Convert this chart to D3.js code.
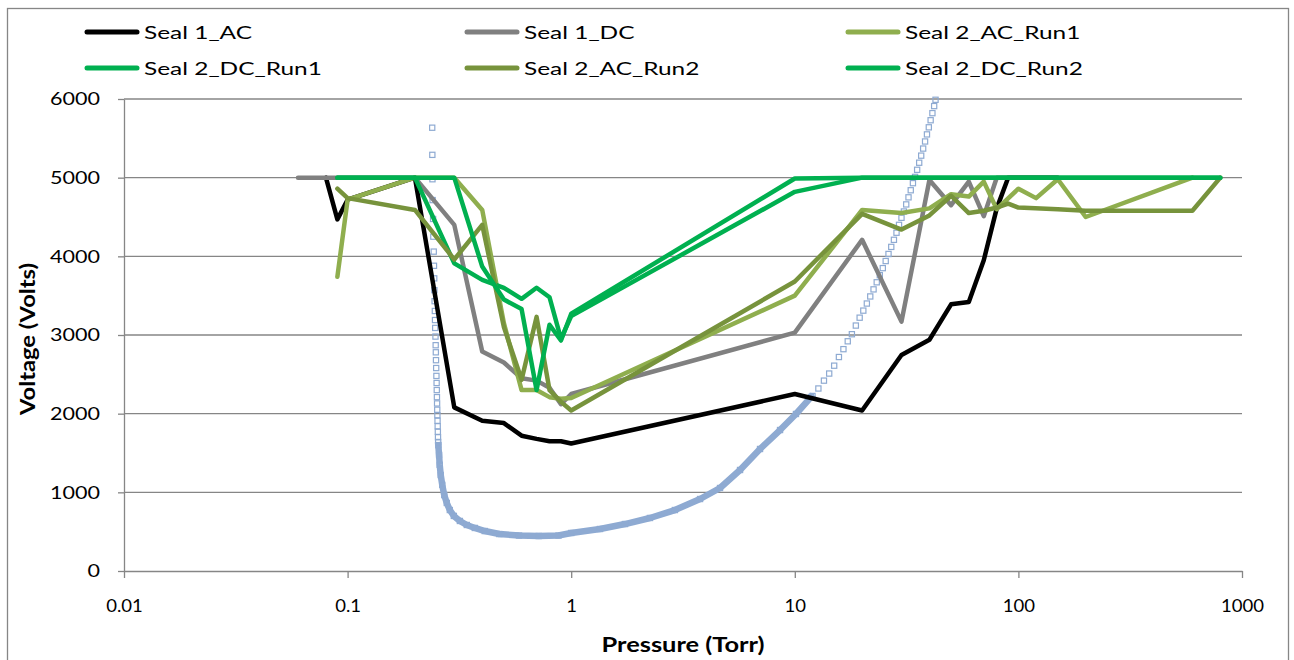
<!DOCTYPE html>
<html><head><meta charset="utf-8">
<script src="https://cdn.jsdelivr.net/npm/d3@7"></script>
<style>
body{margin:0;background:#fff}
svg{display:block}
text{font-family:Lato,"Open Sans",sans-serif;fill:#000}
</style>
</head><body>
<svg id="chart" width="1294" height="660"></svg>
<script>
// ---------------- DATA ----------------
const seriesNames = ["Seal 1_AC","Seal 1_DC","Seal 2_AC_Run1","Seal 2_DC_Run1","Seal 2_AC_Run2","Seal 2_DC_Run2"];
const seriesColors = ["#000000","#808080","#8fae4e","#00b050","#77933c","#00b050"];

const seal1AC_P = [0.08,0.09,0.1,0.2,0.3,0.4,0.5,0.6,0.7,0.8,0.9,1,10,20,30,40,50,60,70,80,90,100,150];
const seal1AC_V = [5000,4470,4720,5000,2080,1910,1880,1720,1680,1650,1650,1620,2250,2040,2745,2940,3390,3420,3950,4610,5000,5000,5000];

const seal1DC_P = [0.06,0.07,0.08,0.09,0.1,0.2,0.3,0.4,0.5,0.6,0.7,0.8,0.9,1,10,20,30,40,50,60,70,80,100,150];
const seal1DC_V = [5000,5000,5000,5000,5000,5000,4400,2790,2650,2450,2420,2330,2120,2250,3030,4210,3170,4970,4650,4950,4510,5000,5000,5000];

const seal2ACRun1_P = [0.09,0.1,0.2,0.3,0.4,0.5,0.6,0.7,0.8,0.9,1,10,20,30,40,50,60,70,80,100,120,150,200,600];
const seal2ACRun1_V = [3740,4720,5000,5000,4590,3150,2300,2300,2210,2190,2200,3500,4590,4550,4610,4790,4760,4950,4600,4860,4740,4980,4500,5000];

const seal2DCRun1_P = [0.09,0.1,0.2,0.3,0.4,0.5,0.6,0.7,0.8,0.9,1,10,20,800];
const seal2DCRun1_V = [5000,5000,5000,3910,3700,3600,3460,3600,3480,2950,3240,4820,5000,5000];

const seal2ACRun2_P = [0.09,0.1,0.2,0.3,0.4,0.5,0.6,0.7,0.8,0.9,1,10,20,30,40,50,60,70,80,90,100,150,200,600,800];
const seal2ACRun2_V = [4860,4740,4590,3960,4400,3100,2430,3230,2300,2150,2040,3680,4540,4340,4520,4770,4550,4580,4620,4670,4620,4600,4580,4580,5000];

const seal2DCRun2_P = [0.09,0.1,0.2,0.3,0.4,0.5,0.6,0.7,0.8,0.9,1,10,20,800];
const seal2DCRun2_V = [5000,5000,5000,5000,3870,3450,3330,2300,3130,2930,3270,4990,5000,5000];

// Paschen curve (hollow square markers, no legend entry)
const paschenSparseP = [0.2390,0.2393,0.2396,0.2400,0.2412,0.2418,0.2428,0.2434,0.2440,0.2444,0.2450,0.2456,0.2460,0.2465,0.2472,0.2477,0.2481,0.2485,0.2490,0.2496,0.2501,0.2505,0.2509,0.2513,0.2517,0.2521,0.2525,0.2529,0.2533,0.2537,0.2541,
  12.0,12.75,13.5,14.25,15,15.75,16.5,17.25,18,18.75,19.5,20.25,21,21.75,22.5,23.25,24,24.75,25.5,26.25,27,27.75,28.5,29.25,30,30.75,31.5,32.25,33,33.75,34.5,35.25,36,36.75,37.5,38.25,39,39.75,40.5,41.25,42,42.6];
const paschenSparseV = [5635,5290,4980,4715,4475,4250,4060,3880,3720,3570,3430,3305,3190,3090,2980,2870,2780,2680,2580,2480,2390,2300,2210,2130,2050,1980,1910,1840,1770,1700,1640,
  2225,2320,2420,2510,2610,2720,2820,2920,3010,3120,3220,3310,3400,3490,3580,3670,3760,3850,3940,4030,4120,4210,4300,4400,4490,4570,4660,4750,4840,4930,5010,5100,5190,5280,5370,5460,5550,5640,5730,5820,5910,5990];
const paschenDenseP = [0.2545,0.2565,0.2582,0.2609,0.265,0.2705,0.2777,0.2865,0.2986,0.3178,0.3413,0.3707,0.4106,0.477,0.5845,0.716,0.8774,1.0,1.345,1.74,2.25,2.91,3.77,4.63,5.69,6.99,8.59,10.12,11.82];
const paschenDenseV = [1600,1475,1350,1220,1095,965,865,775,700,636,585,547,508,470,451,445,451,483,534,597,674,775,915,1055,1284,1551,1792,1996,2212];

const xTickValues = [0.01,0.1,1,10,100,1000];
const xTickLabels = ["0.01","0.1","1","10","100","1000"];
const yTickValues = [0,1000,2000,3000,4000,5000,6000];
const xTitle = "Pressure (Torr)";
const yTitle = "Voltage (Volts)";

// ---------------- CHART ----------------
const svg = d3.select("#chart");
const plotL = 124, plotR = 1242, plotT = 99, plotB = 571;
const gridColor = "#868686";

const x = d3.scaleLog().domain([0.01,1000]).range([plotL,plotR]);
const y = d3.scaleLinear().domain([0,6000]).range([plotB,plotT]);

function stretchTo(sel, target){
  sel.each(function(){ this.setAttribute("textLength", target); this.setAttribute("lengthAdjust","spacingAndGlyphs"); });
}
function stretchBy(sel, k){
  sel.each(function(){ const n=this.getComputedTextLength(); this.setAttribute("textLength", n*k); this.setAttribute("lengthAdjust","spacingAndGlyphs"); });
}

// outer border
svg.append("rect").attr("x",7.5).attr("y",8.5).attr("width",1281).attr("height",700)
  .attr("fill","none").attr("stroke",gridColor).attr("stroke-width",1.3);

// gridlines
svg.append("g").selectAll("line").data(yTickValues.filter(d=>d>0)).join("line")
  .attr("x1",plotL).attr("x2",plotR).attr("y1",d=>y(d)).attr("y2",d=>y(d))
  .attr("stroke",gridColor).attr("stroke-width",1.3);

// y axis
const yAxis = svg.append("g").attr("transform",`translate(${plotL},0)`)
  .call(d3.axisLeft(y).tickValues(yTickValues).tickSize(6).tickSizeOuter(0).tickPadding(18).tickFormat(d3.format("d")));
yAxis.selectAll("path,line").attr("stroke",gridColor).attr("stroke-width",1.3);
yAxis.selectAll("text").attr("font-size",18).attr("font-family","Lato").attr("fill","#000").attr("dy","0.33em");
{
  let ref = null; yAxis.selectAll("text").each(function(){ if(this.textContent==="6000") ref=this; });
  const k = 50 / ref.getComputedTextLength();
  stretchBy(yAxis.selectAll("text"), k);
}

// x axis
const xAxis = svg.append("g").attr("transform",`translate(0,${plotB})`)
  .call(d3.axisBottom(x).tickValues(xTickValues).tickSize(7).tickSizeOuter(0).tickPadding(21).tickFormat((d,i)=>xTickLabels[i]));
xAxis.selectAll("path,line").attr("stroke",gridColor).attr("stroke-width",1.3);
xAxis.selectAll("text").attr("font-size",18).attr("font-family","Lato").attr("fill","#000");
{
  let ref=null; xAxis.selectAll("text").each(function(){ if(this.textContent==="1000") ref=this; });
  const k = 43 / ref.getComputedTextLength();
  stretchBy(xAxis.selectAll("text"), k);
}

// axis titles
const xt = svg.append("text").attr("x",(plotL+plotR)/2).attr("y",652).attr("text-anchor","middle")
  .attr("font-size",20).attr("font-weight","bold").text(xTitle);
stretchTo(xt,163);
const yt = svg.append("text").attr("transform","translate(35,339) rotate(-90)").attr("text-anchor","middle")
  .attr("font-size",20).attr("font-weight","bold").text(yTitle);
stretchTo(yt,152);

// Paschen markers + dense band (drawn beneath measured series)
const pg = svg.append("g");
const paschenColor = "#8eaad2";
const dense = paschenDenseP.map((p,i)=>({p, v:paschenDenseV[i]}));
const sparse = paschenSparseP.map((p,i)=>({p, v:paschenSparseV[i]}));
const line = d3.line().x(d=>x(d.p)).y(d=>y(d.v));
pg.append("path").datum(dense).attr("d",line).attr("fill","none").attr("stroke",paschenColor)
  .attr("stroke-width",6.5).attr("stroke-linejoin","round").attr("stroke-linecap","square");
pg.selectAll("rect.m").data(sparse.concat(dense)).join("rect").attr("class","m")
  .attr("x",d=>x(d.p)-2.6).attr("y",d=>y(d.v)-2.6).attr("width",5.2).attr("height",5.2)
  .attr("fill","none").attr("stroke",paschenColor).attr("stroke-width",1.2);

// measured series
const seriesData = [
  [seal1AC_P, seal1AC_V],
  [seal1DC_P, seal1DC_V],
  [seal2ACRun1_P, seal2ACRun1_V],
  [seal2DCRun1_P, seal2DCRun1_V],
  [seal2ACRun2_P, seal2ACRun2_V],
  [seal2DCRun2_P, seal2DCRun2_V]
].map(([P,V])=>P.map((p,i)=>({p, v:V[i]})));

const sg = svg.append("g");
seriesData.forEach((data,i)=>{
  sg.append("path").datum(data).attr("d",line).attr("fill","none")
    .attr("stroke",seriesColors[i]).attr("stroke-width",4.5)
    .attr("stroke-linejoin","round").attr("stroke-linecap","round");
});

// legend
const legCols = [87, 467, 848];
const legRows = [32, 68];
const lg = svg.append("g");
let legK = null;
seriesNames.forEach((name,i)=>{
  const cx = legCols[i%3], cy = legRows[Math.floor(i/3)];
  lg.append("line").attr("x1",cx).attr("x2",cx+50).attr("y1",cy).attr("y2",cy)
    .attr("stroke",seriesColors[i]).attr("stroke-width",5).attr("stroke-linecap","round");
  const t = lg.append("text").attr("x",cx+57).attr("y",cy+7).attr("font-size",18).text(name);
  if(legK===null) legK = 108 / t.node().getComputedTextLength();
  stretchBy(t, legK);
});
</script>
</body></html>
